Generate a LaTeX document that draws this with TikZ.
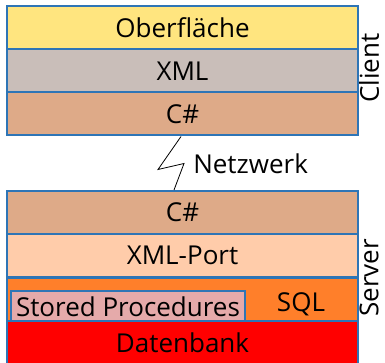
\documentclass[tikz,border=0pt]{standalone}
\usepackage{fontspec}
\setmainfont{Open Sans}
\usepackage{tikz}
\usetikzlibrary{positioning}

\definecolor{rand}{RGB}{46,117,182}
\definecolor{gelb}{RGB}{255,229,127}
\definecolor{grau}{RGB}{201,190,185}
\definecolor{braun}{RGB}{222,170,136}
\definecolor{hell}{RGB}{255,204,170}
\definecolor{orange}{RGB}{255,127,42}
\definecolor{rosa}{RGB}{229,170,170}
\definecolor{rot}{RGB}{255,0,0}

\begin{document}
\begin{tikzpicture}[x=1pt, y=-1pt, semithick,
		layer/.style={draw=rand, line width=2pt, minimum width=351pt, minimum height=43pt, inner sep=0pt, font=\fontsize{26}{30}\selectfont},
		txt/.style={inner sep=0pt, font=\fontsize{26}{30}\selectfont}]
		\useasboundingbox (0, 0) rectangle (385, 363);
		
		\node[layer, fill=gelb] (ob) at (182.5, 28) {Oberfläche};
		\node[layer, fill=grau] (xml) at (182.5, 71) {XML};
		\node[layer, fill=braun] (cc) at (182.5, 114) {C\#};
		\node[txt, rotate=90] (client) at (369, 68) {Client};
		
		\node[layer, fill=braun] (cs) at (182.5, 212.5) {C\#};
		\node[layer, fill=hell] (port) at (182.5, 255.5) {XML-Port};
		\node[layer, fill=orange] (sql) at (182.5, 299) {};
		\node[layer, fill=rosa, minimum width=234pt, minimum height=31pt, anchor=north west] (sp) at (10, 290) {Stored Procedures};
		\node[txt] (sqltext) at (301, 304) {SQL};
		\node[layer, fill=rot] (db) at (182.5, 342.5) {Datenbank};
		\node[txt, rotate=90] (server) at (369, 278) {Server};
		
		\node[txt, anchor=west] (netz) at (193, 164) {Netzwerk};
		\draw[line width=0.8pt] ([xshift=-1.5pt]cc.south) -- ++(-23, 33) -- ++(26, -6) -- ([xshift=-8.5pt]cs.north);
	\end{tikzpicture}
\end{document}
